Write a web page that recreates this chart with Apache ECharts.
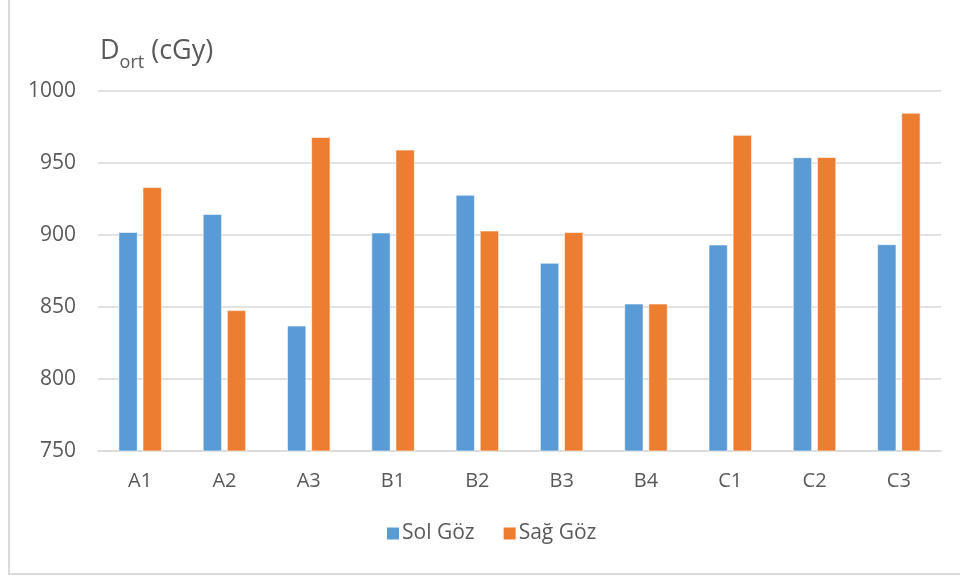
<!DOCTYPE html>
<html lang="tr">
<head>
  <meta charset="UTF-8">
  <title>Dort (cGy)</title>
  <script src="https://cdn.jsdelivr.net/npm/echarts@6/dist/echarts.min.js"></script>
  <style>
    html,body{padding:0;margin:0;background:#fff;}
    #chartBox{width:960px;height:579px;}
  </style>
</head>
<body>
  <div id="chartBox"></div>
  <script>
    // kategoriler ve değerler
    const categories = ['A1','A2','A3','B1','B2','B3','B4','C1','C2','C3'];
    const solGoz = [902, 914.5, 837, 901.6, 927.8, 880.6, 852.3, 893.3, 953.9, 893.5];
    const sagGoz = [933.2, 847.7, 968, 959.2, 903, 901.9, 852.3, 969.4, 954, 984.8];
    const seriesNames = ['Sol Göz', 'Sağ Göz'];

    const textColor = '#595959';
    const font = '"Open Sans", "DejaVu Sans", sans-serif';

    let option = {
      animation: false,
      textStyle: {fontFamily: font, color: textColor},
      graphic: [{
        type: 'rect',
        shape: {x: 9, y: -10, width: 1000, height: 584},
        style: {fill: 'none', stroke: '#d9d9d9', lineWidth: 2},
        silent: true
      }],
      title: {
        text: '{a|D}{b|ort}{a| (cGy)}',
        left: 95,
        top: 23,
        textStyle: {
          fontWeight: 'normal',
          rich: {
            a: {fontSize: 27, fontWeight: 'normal', color: textColor, fontFamily: font, verticalAlign: 'bottom', lineHeight: 37},
            b: {fontSize: 18, fontWeight: 'normal', color: textColor, fontFamily: font, verticalAlign: 'bottom', lineHeight: 26, padding: [0, 0, -7, 0]}
          }
        }
      },
      legend: {
        data: seriesNames,
        bottom: 30,
        left: 380,
        icon: 'rect',
        itemWidth: 14,
        itemHeight: 14,
        itemGap: 27,
        textStyle: {fontSize: 21, color: textColor, fontFamily: font, padding: [0, 0, 0, -3]}
      },
      grid: {
        left: 98,
        right: 19,
        top: 91,
        bottom: 128,
        containLabel: false
      },
      xAxis: {
        type: 'category',
        data: categories,
        axisLine: {lineStyle: {color: '#d9d9d9', width: 1.5}},
        axisTick: {show: false},
        axisLabel: {fontSize: 20, color: textColor, margin: 20, fontFamily: font}
      },
      yAxis: {
        type: 'value',
        min: 750,
        max: 1000,
        interval: 50,
        axisLine: {show: false},
        axisTick: {show: false},
        axisLabel: {fontSize: 21, color: textColor, margin: 22, fontFamily: font, formatter: function (v) { return String(v); }},
        splitLine: {lineStyle: {color: '#d9d9d9', width: 1.5}}
      },
      series: [
        {
          name: seriesNames[0],
          type: 'bar',
          data: solGoz,
          barWidth: 19,
          barGap: '27%',
          itemStyle: {color: '#5B9BD5', borderColor: '#ffffff', borderWidth: 0.6}
        },
        {
          name: seriesNames[1],
          type: 'bar',
          data: sagGoz,
          barWidth: 19,
          barGap: '27%',
          itemStyle: {color: '#ED7D31', borderColor: '#ffffff', borderWidth: 0.6}
        }
      ]
    };
    let myChart = echarts.init(document.getElementById('chartBox'));
    if(myChart){myChart.setOption(option);}
  </script>
</body>
</html>
